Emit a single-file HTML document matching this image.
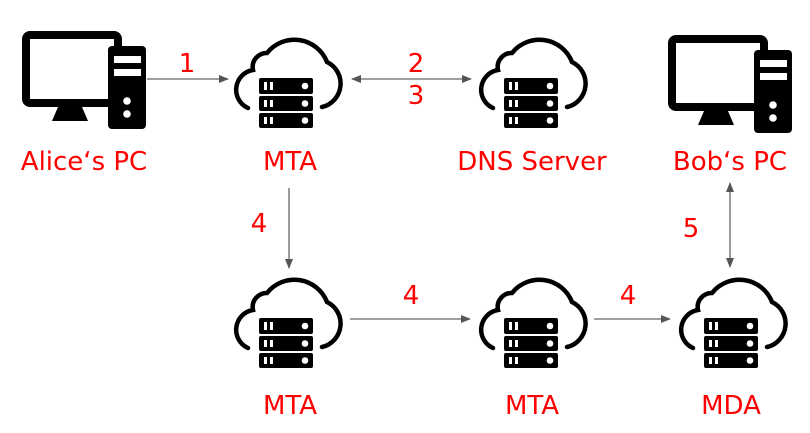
<!DOCTYPE html>
<html><head><meta charset="utf-8"><style>
html,body{margin:0;padding:0;background:#fff;}
svg{display:block}
text{font-family:"DejaVu Sans","Liberation Sans",sans-serif;fill:#ff0000;font-size:26px;text-anchor:middle}
</style></head><body>
<svg width="810" height="433" viewBox="0 0 810 433" xmlns="http://www.w3.org/2000/svg">
<defs>
<g id="cloud">
  <path d="M18,70 A20,20 0 0 1 23,32 A14,14 0 0 1 37,15 A35,35 0 0 1 97,24 A24,24 0 0 1 92,69" fill="none" stroke="#000" stroke-width="4.5" stroke-linecap="round"/>
  <g fill="#000">
    <rect x="29" y="40" width="54" height="16" rx="2"/>
    <rect x="29" y="58" width="54" height="15" rx="2"/>
    <rect x="29" y="75" width="54" height="15" rx="2"/>
  </g>
  <g fill="#fff">
    <rect x="34" y="44" width="3" height="8"/><rect x="40" y="44" width="3" height="8"/><circle cx="75" cy="48" r="3.3"/>
    <rect x="34" y="62" width="3" height="7"/><rect x="40" y="62" width="3" height="7"/><circle cx="75" cy="65.5" r="3.3"/>
    <rect x="34" y="79" width="3" height="7"/><rect x="40" y="79" width="3" height="7"/><circle cx="75" cy="82.5" r="3.3"/>
  </g>
</g>
<g id="pc">
  <rect x="4" y="4" width="92" height="68" rx="4" fill="none" stroke="#000" stroke-width="8"/>
  <polygon points="36,76 60,76 66,90 30,90" fill="#000"/>
  <rect x="86" y="15" width="38" height="83" rx="4" fill="#000"/>
  <rect x="92" y="25" width="27" height="7" fill="#fff"/>
  <rect x="92" y="38" width="27" height="7" fill="#fff"/>
  <circle cx="105" cy="70" r="3.8" fill="#fff"/>
  <circle cx="105" cy="83" r="3.8" fill="#fff"/>
</g>
<marker id="ah" markerWidth="10" markerHeight="8" refX="9" refY="4" orient="auto" markerUnits="userSpaceOnUse">
  <path d="M0,0 L10,4 L0,8 Z" fill="#555"/>
</marker>
<marker id="as" markerWidth="10" markerHeight="8" refX="1" refY="4" orient="auto" markerUnits="userSpaceOnUse">
  <path d="M10,0 L0,4 L10,8 Z" fill="#555"/>
</marker>
</defs>

<use href="#pc" x="22" y="31"/>
<use href="#pc" x="668" y="35"/>
<use href="#cloud" x="230" y="38"/>
<use href="#cloud" x="475" y="38"/>
<use href="#cloud" x="230" y="278"/>
<use href="#cloud" x="475" y="278"/>
<use href="#cloud" x="675" y="278"/>

<g stroke="#666" stroke-width="1.3" fill="none">
  <line x1="147" y1="79" x2="228" y2="79" marker-end="url(#ah)"/>
  <line x1="352" y1="79" x2="471" y2="79" marker-start="url(#as)" marker-end="url(#ah)"/>
  <line x1="289" y1="188" x2="289" y2="268" marker-end="url(#ah)"/>
  <line x1="730" y1="183" x2="730" y2="267" marker-start="url(#as)" marker-end="url(#ah)"/>
  <line x1="350" y1="319" x2="470" y2="319" marker-end="url(#ah)"/>
  <line x1="594" y1="319" x2="670" y2="319" marker-end="url(#ah)"/>
</g>

<text x="187" y="72">1</text>
<text x="416" y="72">2</text>
<text x="416" y="104">3</text>
<text x="259" y="232">4</text>
<text x="691" y="237">5</text>
<text x="411" y="304">4</text>
<text x="628" y="304">4</text>

<text x="84" y="170">Alice‘s PC</text>
<text x="290" y="170">MTA</text>
<text x="532" y="170">DNS Server</text>
<text x="730" y="170">Bob‘s PC</text>
<text x="290" y="414">MTA</text>
<text x="532" y="414">MTA</text>
<text x="731" y="414">MDA</text>
</svg>
</body></html>
